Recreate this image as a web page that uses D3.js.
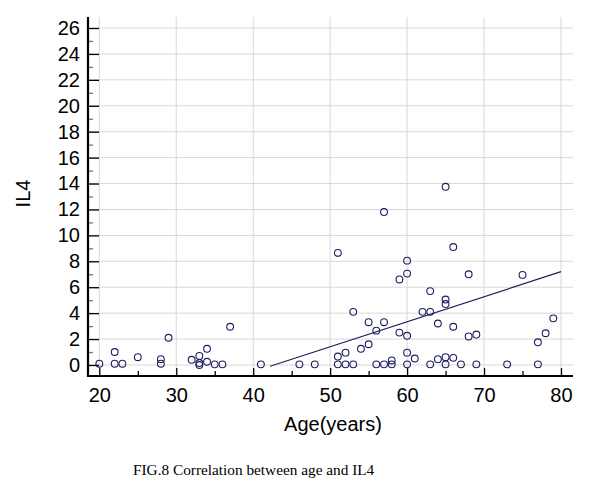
<!DOCTYPE html>
<html>
<head>
<meta charset="utf-8">
<script src="https://cdn.jsdelivr.net/npm/d3@7"></script>
<style>
html,body{margin:0;padding:0;background:#fff;}
svg{display:block;}
</style>
</head>
<body>
<svg id="chart" width="600" height="498"></svg>
<script>
// ---- data ----
const ages = [20,22,22,23,25,28,28,29,32,33,33,33,34,34,35,36,37,41,46,48,
  51,51,51,52,52,53,53,54,55,55,56,56,57,57,57,58,58,59,59,
  60,60,60,60,60,61,62,63,63,63,64,64,65,65,65,65,65,66,66,66,67,
  68,68,69,69,73,75,77,77,78,79];
const il4 = [0.1,1.0,0.1,0.1,0.6,0.45,0.1,2.1,0.4,0.7,0.15,0.0,1.25,0.25,0.05,0.05,2.95,0.05,0.05,0.05,
  8.65,0.65,0.05,0.95,0.05,4.1,0.05,1.25,3.3,1.6,2.65,0.05,11.8,3.3,0.05,0.35,0.05,6.6,2.5,
  8.05,7.05,2.25,0.95,0.05,0.5,4.1,5.7,4.1,0.05,3.2,0.45,13.75,5.05,4.7,0.6,0.05,9.1,2.95,0.55,0.05,
  7.0,2.2,2.35,0.05,0.05,6.95,1.75,0.05,2.45,3.6];
const fitAge = [42.2, 80];
const fitIL4 = [-0.1, 7.2];
const xTicks = [20,30,40,50,60,70,80];
const xMinor = [25,35,45,55,65,75];
const yTicks = [0,2,4,6,8,10,12,14,16,18,20,22,24,26];
const yMinor = [1,3,5,7,9,11,13,15,17,19,21,23,25];
const xTitle = "Age(years)";
const yTitle = "IL4";
const caption = "FIG.8 Correlation between age and IL4";

// ---- layout ----
const svg = d3.select("#chart");
const pL = 88, pR = 573, pT = 17, pB = 376;
const x = d3.scaleLinear().domain([18.53, 81.56]).range([pL, pR]);
const y = d3.scaleLinear().domain([-0.85, 26.85]).range([pB, pT]);
const font = "'Liberation Sans', Arial, sans-serif";
const navy = "#1e1e5e";

// gridlines
const grid = svg.append("g");
grid.selectAll("line.h").data(yTicks).join("line").attr("class", "h")
  .attr("x1", pL).attr("x2", pR)
  .attr("y1", d => y(d)).attr("y2", d => y(d))
  .attr("stroke", "#d8d8d8").attr("stroke-width", 1);
grid.selectAll("line.v").data(xTicks).join("line").attr("class", "v")
  .attr("y1", pT).attr("y2", pB)
  .attr("x1", d => x(d)).attr("x2", d => x(d))
  .attr("stroke", "#d8d8d8").attr("stroke-width", 1);

// y axis
const yAxis = svg.append("g").attr("transform", `translate(${pL},0)`)
  .call(d3.axisLeft(y).tickValues(yTicks).tickSize(-11).tickPadding(8).tickFormat(d3.format("d")));
yAxis.select(".domain").remove();
yAxis.selectAll(".tick line").attr("stroke", "#000").attr("stroke-width", 1.3);
yAxis.selectAll("text").attr("font-family", font).attr("font-size", 20).attr("fill", "#000");
const yMin = svg.append("g").attr("transform", `translate(${pL},0)`)
  .call(d3.axisLeft(y).tickValues(yMinor).tickSize(-5).tickFormat(""));
yMin.select(".domain").remove();
yMin.selectAll(".tick line").attr("stroke", "#777").attr("stroke-width", 1.3);

// x axis
const xAxis = svg.append("g").attr("transform", `translate(0,${pB})`)
  .call(d3.axisBottom(x).tickValues(xTicks).tickSize(-8).tickPadding(11.5).tickFormat(d3.format("d")));
xAxis.select(".domain").remove();
xAxis.selectAll(".tick line").attr("stroke", "#000").attr("stroke-width", 1.3);
xAxis.selectAll("text").attr("font-family", font).attr("font-size", 20).attr("fill", "#000");
const xMin = svg.append("g").attr("transform", `translate(0,${pB})`)
  .call(d3.axisBottom(x).tickValues(xMinor).tickSize(-5).tickFormat(""));
xMin.select(".domain").remove();
xMin.selectAll(".tick line").attr("stroke", "#000").attr("stroke-width", 1.3);

// axis lines
svg.append("line").attr("x1", pL).attr("x2", pL).attr("y1", pT).attr("y2", pB + 1)
  .attr("stroke", "#000").attr("stroke-width", 2.2);
svg.append("line").attr("x1", pL - 1).attr("x2", pR).attr("y1", pB).attr("y2", pB)
  .attr("stroke", "#000").attr("stroke-width", 2.2);

// regression line
svg.append("path")
  .datum(fitAge.map((a, i) => [a, fitIL4[i]]))
  .attr("d", d3.line().x(d => x(d[0])).y(d => y(d[1])))
  .attr("fill", "none").attr("stroke", navy).attr("stroke-width", 1.2);

// points
svg.append("g").selectAll("circle").data(ages.map((a, i) => [a, il4[i]])).join("circle")
  .attr("cx", d => x(d[0])).attr("cy", d => y(d[1])).attr("r", 3.4)
  .attr("fill", "#fff").attr("fill-opacity", 0).attr("stroke", navy).attr("stroke-width", 1.1);

// titles
svg.append("text").attr("x", 333).attr("y", 431).attr("text-anchor", "middle")
  .attr("font-family", font).attr("font-size", 20).attr("fill", "#000").text(xTitle);
svg.append("text").attr("transform", "translate(30,193.5) rotate(-90)").attr("text-anchor", "middle")
  .attr("font-family", font).attr("font-size", 20).attr("fill", "#000").text(yTitle);
svg.append("text").attr("x", 133).attr("y", 475)
  .attr("font-family", "'Liberation Serif', 'Times New Roman', serif").attr("font-size", 15.3)
  .attr("fill", "#000").text(caption);
</script>
</body>
</html>
